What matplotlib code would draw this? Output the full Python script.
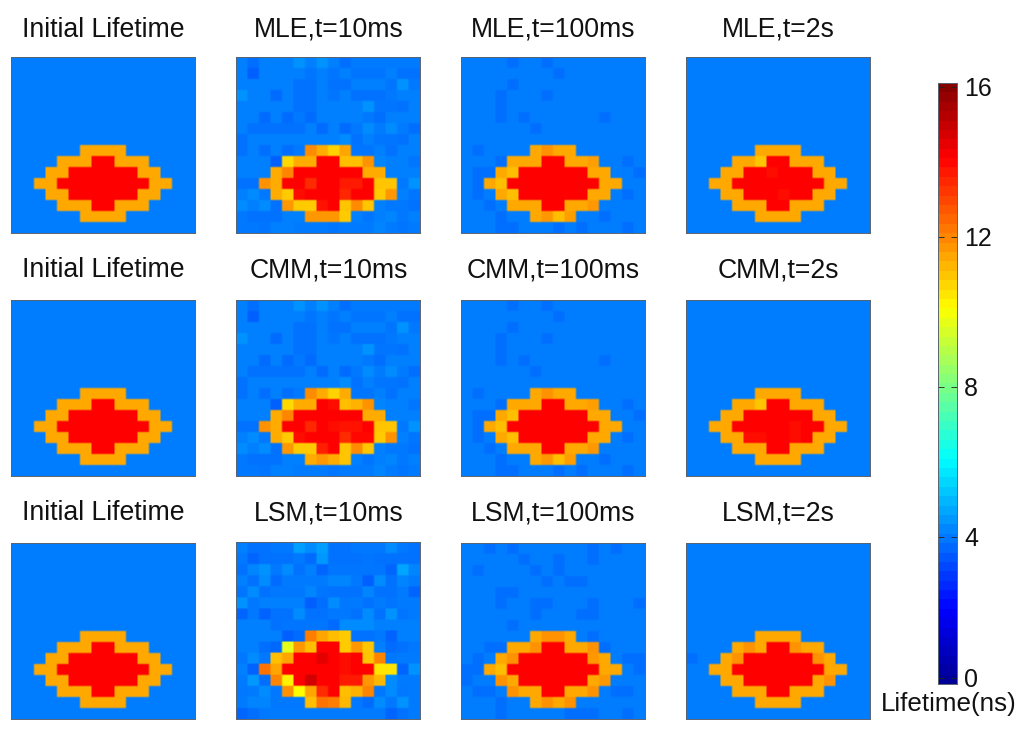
import numpy as np
import matplotlib
matplotlib.use("Agg")
import matplotlib.pyplot as plt
from matplotlib.colors import LinearSegmentedColormap

plt.rcParams['font.family'] = ['Liberation Sans', 'DejaVu Sans']

B = 3.98   # background lifetime
O = 11.33  # ring lifetime
R = 14.0   # core lifetime

initial = [
    [B]*16, [B]*16, [B]*16, [B]*16, [B]*16, [B]*16, [B]*16, [B]*16,
    [B,B,B,B,B,B,O,O,O,O,B,B,B,B,B,B],
    [B,B,B,B,O,O,O,R,R,O,O,O,B,B,B,B],
    [B,B,B,O,O,R,R,R,R,R,R,O,O,B,B,B],
    [B,B,O,O,R,R,R,R,R,R,R,R,O,O,B,B],
    [B,B,B,O,O,R,R,R,R,R,R,O,O,B,B,B],
    [B,B,B,B,O,O,O,R,R,O,O,O,B,B,B,B],
    [B,B,B,B,B,B,O,O,O,O,B,B,B,B,B,B],
    [B]*16,
]

mle_10ms = [
    [4.0,3.75,4.0,4.0,4.0,4.3,4.0,4.3,4.0,3.75,3.95,3.95,3.95,3.95,3.95,3.95],
    [4.0,3.5,4.0,4.0,4.0,4.0,3.85,4.0,3.85,4.0,3.85,3.85,3.85,4.0,3.8,3.8],
    [4.0,4.0,4.0,4.0,4.0,3.8,3.8,4.0,3.8,3.8,4.0,4.0,4.0,3.85,4.3,3.9],
    [4.3,4.0,4.0,3.7,4.0,3.8,3.8,4.0,3.85,4.0,3.8,3.8,3.8,3.9,4.0,4.0],
    [4.0,4.0,4.0,4.0,4.0,3.8,3.8,4.0,4.0,4.0,4.0,4.3,3.85,3.85,3.8,4.0],
    [4.0,4.0,3.7,4.0,3.7,3.9,3.7,4.0,4.0,4.0,4.0,3.9,3.75,4.0,4.0,4.0],
    [4.0,3.8,3.8,3.8,3.8,3.8,4.0,3.7,4.0,3.7,3.9,4.2,3.95,4.2,3.95,3.75],
    [3.8,4.0,4.0,4.0,4.0,4.0,4.0,4.0,4.0,4.2,3.8,4.0,3.85,3.85,3.8,4.0],
    [3.8,4.0,3.75,4.0,3.75,3.9,11.8,11.3,10.7,11.4,3.85,3.85,4.0,3.8,4.0,4.0],
    [4.0,4.0,4.0,3.5,10.6,11.3,11.3,14.0,14.0,11.0,11.0,11.7,4.1,4.0,4.0,3.85],
    [4.0,4.0,4.0,11.3,11.9,14.0,14.0,14.0,14.0,14.0,14.0,11.3,11.3,4.0,4.0,4.0],
    [3.8,3.8,11.7,11.3,14.0,14.0,13.3,14.0,14.0,13.6,13.6,14.0,10.9,10.9,3.9,4.3],
    [4.0,4.2,3.9,11.3,10.8,13.8,14.0,14.0,14.0,13.4,14.0,14.0,10.8,11.6,4.0,3.85],
    [4.2,4.0,4.2,3.8,11.6,10.8,10.8,13.7,14.0,10.9,11.8,10.9,4.0,3.9,3.9,3.8],
    [3.9,3.8,3.8,3.8,4.0,4.0,11.6,11.6,11.6,10.8,4.0,3.85,4.0,4.1,3.9,4.0],
    [3.9,3.9,3.85,4.0,4.0,3.95,3.95,3.95,3.85,3.95,3.95,3.95,4.1,3.95,3.85,3.95],
]

cmm_10ms = [
    [4.0,3.75,4.0,4.0,4.0,4.3,4.0,4.3,4.0,3.75,3.95,3.95,3.95,3.95,3.95,3.95],
    [4.0,3.5,4.0,4.0,4.0,4.0,3.85,4.0,3.85,4.0,3.85,3.85,3.85,4.0,3.8,3.8],
    [4.0,4.0,4.0,4.0,4.0,3.8,3.8,4.0,3.8,3.8,4.0,4.0,4.0,3.85,4.3,3.9],
    [4.3,4.0,4.0,3.7,4.0,3.8,3.8,4.0,3.85,4.0,3.8,3.8,3.8,3.9,4.0,4.0],
    [4.0,4.0,4.0,4.0,4.0,3.8,3.8,4.0,4.0,4.0,4.0,4.3,3.85,3.85,3.8,4.0],
    [4.0,4.0,3.7,4.0,3.7,3.9,3.7,4.0,4.0,4.0,4.0,3.9,3.75,4.0,4.0,4.0],
    [4.0,3.8,3.8,3.8,3.8,3.8,4.0,3.7,4.0,3.7,3.9,4.2,3.95,4.2,3.95,3.75],
    [3.8,4.0,4.0,4.0,4.0,4.0,4.0,4.0,4.0,4.2,3.8,4.0,3.85,3.85,3.8,4.0],
    [3.8,4.0,3.75,4.0,3.75,3.9,11.8,11.3,10.7,11.3,3.85,3.85,4.0,3.8,4.0,4.0],
    [4.0,4.0,4.0,3.5,10.6,11.3,11.3,14.0,13.8,11.0,11.2,11.7,4.1,4.0,4.0,3.85],
    [4.0,4.0,4.0,11.3,11.9,14.0,14.0,14.0,14.0,14.0,14.0,11.3,11.3,4.0,4.0,4.0],
    [3.8,3.8,11.7,11.3,14.0,14.0,13.4,14.0,13.8,13.7,13.7,14.0,10.9,10.9,3.9,4.3],
    [4.0,4.2,3.9,11.3,10.8,13.8,14.0,14.0,14.0,13.3,13.9,13.9,10.8,11.7,4.0,3.85],
    [4.2,4.0,4.2,3.8,11.6,10.8,10.8,13.5,14.0,10.9,11.8,10.9,4.0,3.9,3.9,3.8],
    [3.9,3.8,3.8,3.8,4.0,4.0,11.3,11.6,11.3,10.9,4.0,3.85,4.0,4.1,3.9,4.0],
    [3.9,3.9,3.85,4.0,4.0,3.95,3.95,3.95,3.85,3.95,3.95,3.95,4.1,3.95,3.85,3.95],
]

lsm_10ms = [
    [4.0,3.8,3.8,3.9,3.9,4.5,4.2,4.5,3.8,3.8,3.9,3.9,3.9,4.2,3.9,3.8],
    [3.9,3.6,3.8,3.8,3.8,3.9,3.7,4.4,3.8,3.8,3.8,3.85,3.8,3.8,3.8,3.8],
    [3.8,4.1,4.3,3.9,4.2,3.8,4.0,3.6,3.85,3.85,3.85,3.85,3.85,3.6,4.6,4.1],
    [4.0,3.8,4.2,3.7,3.95,3.95,3.95,3.95,4.1,4.1,3.9,3.5,4.2,3.8,4.1,3.95],
    [3.85,4.2,3.8,3.9,3.9,3.9,4.1,3.85,3.8,3.8,3.8,4.1,3.8,3.8,3.95,3.6],
    [4.3,3.9,4.0,4.0,4.0,4.0,3.5,3.75,4.2,3.9,3.95,3.8,3.95,3.85,3.95,3.95],
    [3.6,3.9,3.55,3.8,3.8,4.2,3.8,3.8,3.9,3.9,3.8,4.2,3.8,4.3,3.85,3.95],
    [4.0,4.0,4.0,3.8,3.85,3.85,3.85,3.85,3.7,4.2,4.2,4.2,4.0,4.0,4.0,4.0],
    [4.0,4.0,4.0,4.0,3.5,3.7,12.0,11.4,11.0,10.8,3.8,3.8,3.9,3.55,4.0,4.0],
    [4.0,4.0,3.75,3.65,9.6,11.6,11.0,14.0,14.0,10.8,11.6,10.9,4.0,3.7,3.8,3.9],
    [3.9,4.2,3.9,11.0,11.4,14.0,14.0,14.4,14.0,13.8,14.0,10.9,11.9,3.9,3.95,3.95],
    [4.0,3.55,12.2,11.4,14.0,14.0,14.0,14.0,14.0,13.8,14.0,14.0,10.4,10.4,3.6,4.3],
    [3.95,4.4,3.75,11.9,10.2,14.0,14.7,14.0,14.0,13.6,13.6,11.6,11.1,4.2,3.95,3.95],
    [3.9,3.95,4.2,3.9,11.7,10.0,11.4,13.3,14.0,11.0,11.2,11.9,3.9,4.2,3.9,3.95],
    [3.95,4.1,4.1,3.9,3.9,3.9,11.0,12.2,12.0,11.1,3.9,3.7,4.2,3.9,4.3,3.95],
    [3.6,3.75,3.9,3.95,3.95,3.95,3.95,3.95,3.95,3.95,3.95,3.95,3.95,3.6,3.8,3.95],
]

# (row, column, value) readings that differ from the initial lifetime map
mle_100ms_changes = [
    (0,4,3.75),(0,7,3.75),(1,8,3.75),(2,4,3.75),(3,3,3.75),(3,7,3.75),(4,3,3.75),
    (5,3,3.75),(5,5,3.75),(5,12,3.75),(6,6,3.75),(8,1,3.75),(9,3,3.75),(9,14,3.75),
    (10,1,3.75),(10,2,3.75),(10,15,3.75),(11,1,3.75),(12,1,3.75),(12,14,3.75),
    (13,2,3.75),(14,3,3.75),(14,12,3.75),(15,3,3.75),(15,4,3.75),(15,8,3.75),
    (15,10,3.75),(15,14,3.75),
    (8,7,11.7),(9,11,11.5),(10,4,11.0),(11,3,11.0),(12,4,11.0),(13,11,11.6),
    (14,7,11.6),(14,8,11.0),(14,9,11.5),
]
cmm_100ms_changes = mle_100ms_changes
lsm_100ms_changes = [
    (0,2,3.75),(0,4,3.75),(0,11,3.75),(0,13,3.75),(1,5,3.75),(1,8,3.75),(1,11,3.75),
    (2,1,3.75),(2,6,3.75),(2,8,3.75),(3,7,3.75),(3,9,3.75),(3,10,3.75),(4,3,3.75),
    (4,4,3.75),(5,3,3.75),(5,6,3.75),(5,7,3.75),(5,11,3.75),(5,15,3.75),(6,6,3.75),
    (6,10,3.75),(6,11,3.75),(7,4,3.75),(8,11,3.75),(9,2,3.75),(9,3,3.75),(9,12,3.75),
    (10,1,3.75),(10,14,3.75),(10,15,3.75),(11,0,3.75),(11,1,3.75),(11,15,3.75),
    (12,0,3.75),(13,1,3.75),(13,2,3.75),(13,13,3.75),(13,14,3.75),(14,3,3.75),
    (15,3,3.75),(15,9,3.75),(15,10,3.75),(15,11,3.75),(15,14,3.75),
    (8,7,11.7),(8,8,11.7),(9,6,11.7),(9,11,11.7),(10,4,11.7),(10,11,11.6),
    (11,3,11.0),(12,3,11.7),(12,12,11.6),(13,4,11.7),(13,11,11.7),(14,7,11.7),(14,9,11.7),
]
mle_2s_changes = [(9,6,10.9),(10,7,13.8),(12,8,13.8)]
cmm_2s_changes = [(9,6,10.9),(11,9,13.8),(12,9,13.8),(12,5,13.8),(12,6,13.8)]
lsm_2s_changes = [(10,0,3.75),(9,5,11.7),(9,9,11.7),(10,4,11.7),(10,11,11.7),(12,12,11.7)]

titles = [
    ["Initial Lifetime", "MLE,t=10ms", "MLE,t=100ms", "MLE,t=2s"],
    ["Initial Lifetime", "CMM,t=10ms", "CMM,t=100ms", "CMM,t=2s"],
    ["Initial Lifetime", "LSM,t=10ms", "LSM,t=100ms", "LSM,t=2s"],
]
cbar_ticks = [0.25, 4, 8, 12, 16]
cbar_labels = ["0", "4", "8", "12", "16"]
cbar_label = "Lifetime(ns)"


def with_changes(changes):
    m = np.array(initial, dtype=float)
    for r, c, v in changes:
        m[r, c] = v
    return m


panels = [
    [initial, mle_10ms, with_changes(mle_100ms_changes), with_changes(mle_2s_changes)],
    [initial, cmm_10ms, with_changes(cmm_100ms_changes), with_changes(cmm_2s_changes)],
    [initial, lsm_10ms, with_changes(lsm_100ms_changes), with_changes(lsm_2s_changes)],
]

# MATLAB style jet
jet = LinearSegmentedColormap('mjet', {
    'red':   [(0, 0, 0), (24/64, 0, 0), (40/64, 1, 1), (56/64, 1, 1), (1, .5, .5)],
    'green': [(0, 0, 0), (8/64, 0, 0), (24/64, 1, 1), (40/64, 1, 1), (56/64, 0, 0), (1, 0, 0)],
    'blue':  [(0, .5625, .5625), (8/64, 1, 1), (24/64, 1, 1), (40/64, 0, 0), (1, 0, 0)],
}, N=1024)

W, H = 1024, 730
fig = plt.figure(figsize=(W/100, H/100), dpi=100, facecolor='white')


def px_axes(x0, y0, x1, y1):
    return fig.add_axes([x0/W, 1 - y1/H, (x1-x0)/W, (y1-y0)/H])


col_x = [11, 236, 461, 686]
row_y = [57, 300, 543]
title_base = [37, 277, 520]
title_x = [103, 329, 553, 778]
PW, PH = 184, 176
SOFT = 6  # each cell drawn as SOFT x SOFT samples to soften the cell edges

for r in range(3):
    for c in range(4):
        top = row_y[r] - (1 if (r == 2 and c == 1) else 0)
        ax = px_axes(col_x[c], top, col_x[c]+PW, row_y[r]+PH)
        m = np.array(panels[r][c], dtype=float)
        m = np.repeat(np.repeat(m, SOFT, axis=0), SOFT, axis=1)
        ax.imshow(m, cmap=jet, vmin=0, vmax=16, aspect='auto',
                  interpolation='bilinear', interpolation_stage='rgba')
        ax.set_xticks([])
        ax.set_yticks([])
        for s in ax.spines.values():
            s.set_linewidth(0.7)
            s.set_color('#5a6470')
        fig.text(title_x[c]/W, 1 - title_base[r]/H, titles[r][c], ha='center', va='baseline',
                 fontsize=19.2, color='#111111')

# colour bar: value axis runs 0.08 .. 16.1 across the drawn bar
cax = px_axes(938, 83, 957, 684)
vmin_bar, vmax_bar = 0.08, 16.1
levels = (np.arange(64) + 0.5) / 64 * 16
cax.imshow(levels[::-1].reshape(-1, 1), cmap=jet, vmin=0, vmax=16, aspect='auto',
           interpolation='nearest', extent=[0, 1, vmin_bar, vmax_bar])
cax.set_xticks([])
cax.set_yticks(cbar_ticks)
cax.set_yticklabels(cbar_labels)
cax.yaxis.tick_right()
cax.tick_params(axis='y', which='both', direction='in', left=True, right=True,
                length=4, width=0.6, color='#222222', labelsize=18, pad=5,
                labelcolor='#111111')
for s in cax.spines.values():
    s.set_linewidth(0.7)
    s.set_color('#5a6470')
fig.text(949/W, 1 - 711/H, cbar_label, ha='center', va='baseline', fontsize=18.7, color='#111111')

fig.savefig('out.png', dpi=100, facecolor='white')
